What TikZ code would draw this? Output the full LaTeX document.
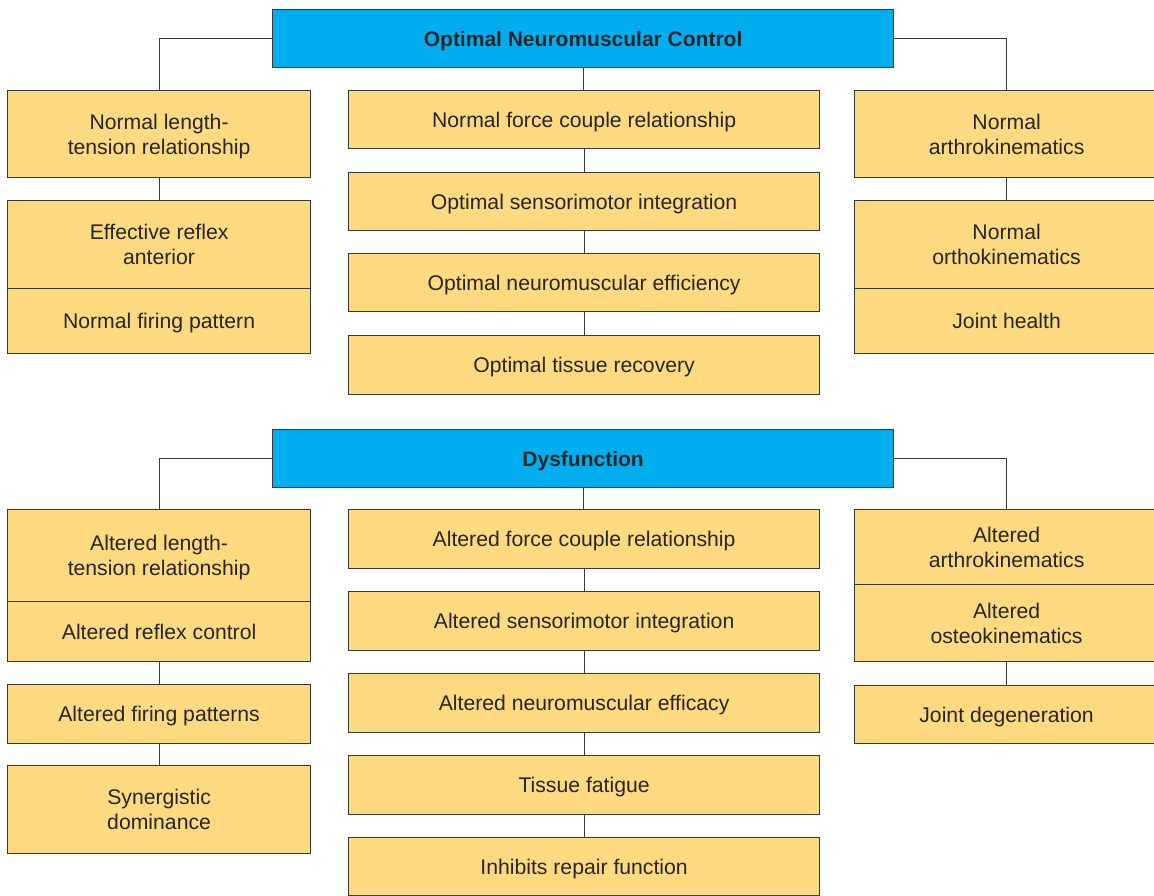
\documentclass[tikz,border=0pt]{standalone}
\usepackage{fontspec}
\setmainfont{Liberation Sans}
\definecolor{yel}{HTML}{FDDA80}
\definecolor{blu}{HTML}{00ADEE}
\definecolor{linec}{HTML}{383838}
\tikzset{
  box/.style={draw=linec, line width=1.2pt, align=center, inner sep=0pt, anchor=north west,
    text depth=0pt, font=\fontsize{21.2}{25}\selectfont, text=black!85},
  ybox/.style={box, fill=yel},
  bbox/.style={box, fill=blu, font=\fontsize{21}{25}\selectfont\bfseries},
  conn/.style={draw=linec, line width=1.2pt},
}
\newcommand{\bx}[7]{\node[#1, minimum width=#5pt, minimum height=#6pt] (#2) at (#3,#4) {#7};}
\begin{document}
\begin{tikzpicture}[x=1pt,y=-1pt]
\useasboundingbox (0,0) rectangle (1154,896);
\clip (0,0) rectangle (1154,896);
% ---------- top section ----------
\bx{bbox}{B1}{272}{9}{621}{58}{Optimal Neuromuscular Control}
\bx{ybox}{L1}{7}{90}{303}{87}{Normal length-\\tension relationship}
\bx{ybox}{L2a}{7}{200}{303}{88}{Effective reflex\\anterior}
\bx{ybox}{L2b}{7}{288}{303}{65}{Normal firing pattern}
\bx{ybox}{C1}{348}{90}{471}{58}{Normal force couple relationship}
\bx{ybox}{C2}{348}{172}{471}{58}{Optimal sensorimotor integration}
\bx{ybox}{C3}{348}{253}{471}{58}{Optimal neuromuscular efficiency}
\bx{ybox}{C4}{348}{335}{471}{59}{Optimal tissue recovery}
\bx{ybox}{R1}{854}{90}{304}{87}{Normal\\arthrokinematics}
\bx{ybox}{R2a}{854}{200}{304}{88}{Normal\\orthokinematics}
\bx{ybox}{R2b}{854}{288}{304}{65}{Joint health}
\draw[conn] (B1.west) -| (L1.north);
\draw[conn] (B1.east) -| (R1.north);
\draw[conn] (B1.south) -- (B1.south |- C1.north);
\draw[conn] (L1.south) -- (L2a.north);
\draw[conn] (R1.south) -- (R2a.north);
\draw[conn] (C1.south) -- (C2.north);
\draw[conn] (C2.south) -- (C3.north);
\draw[conn] (C3.south) -- (C4.north);
% ---------- bottom section ----------
\bx{bbox}{B2}{272}{429}{621}{58}{Dysfunction}
\bx{ybox}{L3a}{7}{509}{303}{92}{Altered length-\\tension relationship}
\bx{ybox}{L3b}{7}{601}{303}{60}{Altered reflex control}
\bx{ybox}{L4}{7}{684}{303}{59}{Altered firing patterns}
\bx{ybox}{L5}{7}{765}{303}{88}{Synergistic\\dominance}
\bx{ybox}{C5}{348}{509}{471}{59}{Altered force couple relationship}
\bx{ybox}{C6}{348}{591}{471}{59}{Altered sensorimotor integration}
\bx{ybox}{C7}{348}{673}{471}{59}{Altered neuromuscular efficacy}
\bx{ybox}{C8}{348}{755}{471}{59}{Tissue fatigue}
\bx{ybox}{C9}{348}{837}{471}{58}{Inhibits repair function}
\bx{ybox}{R3a}{854}{509}{304}{75}{Altered\\arthrokinematics}
\bx{ybox}{R3b}{854}{584}{304}{77}{Altered\\osteokinematics}
\bx{ybox}{R4}{854}{685}{304}{58}{Joint degeneration}
\draw[conn] (B2.west) -| (L3a.north);
\draw[conn] (B2.east) -| (R3a.north);
\draw[conn] (B2.south) -- (B2.south |- C5.north);
\draw[conn] (L3b.south) -- (L4.north);
\draw[conn] (L4.south) -- (L5.north);
\draw[conn] (R3b.south) -- (R4.north);
\draw[conn] (C5.south) -- (C6.north);
\draw[conn] (C6.south) -- (C7.north);
\draw[conn] (C7.south) -- (C8.north);
\draw[conn] (C8.south) -- (C9.north);
\end{tikzpicture}
\end{document}
